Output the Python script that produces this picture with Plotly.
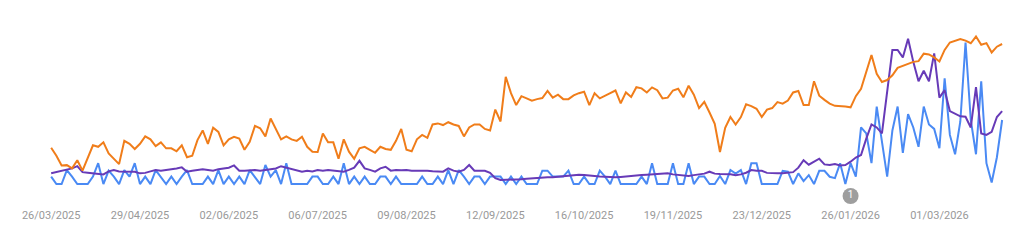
import pandas as pd
import plotly.graph_objects as go

dates = pd.date_range("2025-03-26", periods=183, freq="2D")

orange = [
    24.4, 19, 12.5, 12.7, 10.5, 16, 9, 17, 26, 25,
    28, 20.5, 17, 13.4, 29, 27, 23.5, 27, 32, 30,
    25.5, 28, 24, 24, 22, 26, 18, 19, 29.5, 36,
    27, 37.8, 35, 26, 30, 31.7, 30.6, 23, 28.4, 39,
    37.4, 32, 44, 37, 30, 32, 30, 29, 31.7, 25,
    21.7, 21.5, 34, 28, 28, 17, 30, 21.7, 17, 24,
    25, 23, 21, 25, 23.5, 23, 29, 37, 23, 22,
    30, 33, 31, 40, 40.7, 39.6, 41.5, 40, 39, 32,
    38, 40, 40, 37, 36, 50, 42, 72, 61, 53,
    59, 57.5, 56, 57, 57.7, 62.5, 58, 60, 57, 57,
    59.5, 61, 62, 53, 61, 57.5, 59.5, 61, 62.8, 54.2,
    61.5, 58.5, 65, 64.2, 61.5, 64.9, 63, 57.5, 58, 62.8,
    64, 58.2, 66, 60, 51, 55.2, 48, 40.5, 21.5, 37.7,
    45, 40, 45, 53.5, 52.3, 50.5, 45, 50, 51, 55,
    54, 56, 61.5, 62.5, 53, 53, 69, 59.3, 56.5, 54,
    52.5, 52.5, 52, 51.5, 59, 64, 76, 86.6, 74, 68.5,
    69.8, 73, 78, 79.3, 80.3, 82, 82.5, 87.5, 87, 85,
    82.3, 90, 95, 96, 97.4, 96.3, 94.5, 99, 93.5, 94.6,
    88.3, 92.2, 94,
]

purple = [
    7.2, 8, 9, 10, 10.5, 12, 8, 7.6, 7.2, 6.7,
    6.5, 8.5, 9.4, 8.5, 8.3, 8.5, 8.3, 7.2, 7.5, 8.5,
    9.4, 9, 9.4, 10, 10.5, 11.2, 8.3, 9, 9.4, 10,
    9.5, 9, 10, 10.5, 11, 12.5, 9, 8.9, 9.4, 9.4,
    9, 9.4, 10, 10.5, 12, 11, 10, 8.8, 8.3, 9,
    8.5, 9.4, 9, 9.4, 9, 8.5, 8.3, 9.5, 11, 15.6,
    10.5, 9.5, 8.3, 10.5, 11.6, 9, 9.4, 9.2, 9.4, 9,
    9, 9.2, 8.9, 8.6, 8.5, 8.3, 10.5, 9, 8.3, 9.5,
    12.8, 9, 9, 8.9, 7.5, 4, 2.7, 2.7, 3, 3,
    3.2, 3.5, 3.8, 4, 4.3, 4.5, 4.5, 4.9, 5.2, 5.5,
    6, 6.2, 6, 5.5, 5.2, 5, 4.9, 4.5, 4.5, 4.8,
    5.2, 5.5, 6, 6, 6.2, 6.5, 6.5, 7, 7.2, 6.5,
    6, 5.5, 5.4, 6, 6.7, 7, 8.3, 7, 6.7, 6.7,
    6.5, 6, 6.5, 7.6, 9.4, 9, 8.9, 7.5, 7.2, 7.2,
    7.2, 7.6, 8, 11, 16, 13, 15, 17, 13.2, 12.8,
    13.5, 12.5, 12.8, 15, 17.8, 19.5, 30.5, 40, 38, 34,
    62, 90, 90, 85, 97.5, 82, 69, 76, 69, 87.7,
    58, 63, 49, 47, 45.5, 45.2, 38, 65, 34, 33,
    35, 45, 49,
]

blue = [
    5, 0, 0, 9.4, 5, 0, 0, 0, 5, 14,
    0, 9, 5, 0, 9.4, 5, 14, 0, 5, 0,
    9.4, 5, 0, 5, 0, 5, 9.4, 0, 0, 0,
    5, 0, 9.4, 0, 5, 0, 5, 0, 9.4, 5,
    0, 12.8, 5, 9.4, 0, 14, 0, 0, 0, 0,
    5, 5, 0, 0, 5, 0, 14, 0, 5, 0,
    5, 0, 0, 5, 5, 0, 5, 0, 0, 0,
    0, 5, 0, 0, 5, 0, 9.4, 0, 9.4, 5,
    0, 5, 5, 0, 5, 5, 5, 0, 5, 0,
    5, 0, 0, 0, 9, 9, 5, 5, 5, 9,
    0, 0, 5, 0, 0, 9, 5, 0, 9, 0,
    0, 0, 0, 5, 0, 14, 0, 0, 0, 14,
    0, 0, 14, 0, 5, 5, 0, 0, 5.4, 0,
    9.4, 7, 9.4, 0, 13.9, 13.9, 0, 0, 0, 0,
    8.9, 8.3, 0, 7.2, 2, 6, 0, 8.9, 8.9, 4.9,
    4, 13.9, 0, 14, 5, 38, 34, 14, 52, 30,
    5, 36, 52, 21, 47, 38, 25, 52, 40, 37,
    24, 71, 33, 20, 42, 95, 43, 20, 69, 14,
    1, 18, 43,
]

marker_dates = ["2026-01-26"]
marker_labels = ["1"]

fig = go.Figure()
fig.add_trace(go.Scatter(x=dates, y=blue, mode="lines",
                         line=dict(color="#4a8af4", width=2), hoverinfo="skip"))
fig.add_trace(go.Scatter(x=dates, y=purple, mode="lines",
                         line=dict(color="#673ab7", width=2), hoverinfo="skip"))
fig.add_trace(go.Scatter(x=dates, y=orange, mode="lines",
                         line=dict(color="#f07d1a", width=2), hoverinfo="skip"))
fig.add_trace(go.Scatter(x=marker_dates, y=[-8], mode="markers+text",
                         text=marker_labels, textposition="middle center",
                         textfont=dict(color="white", size=10, family="Roboto"),
                         marker=dict(size=16, color="#9e9e9e"),
                         cliponaxis=False, hoverinfo="skip"))

fig.update_layout(
    width=1024, height=241,
    margin=dict(l=0, r=0, t=30, b=34),
    paper_bgcolor="white", plot_bgcolor="white",
    showlegend=False,
    font=dict(family="Roboto", color="#999999", size=11),
    xaxis=dict(
        range=["2025-03-06 10:00", "2026-04-02 09:00"],
        tick0="2025-03-26", dtick=34 * 86400000,
        tickformat="%d/%m/%Y",
        showgrid=False, zeroline=False, showline=False, ticks="",
        tickfont=dict(family="Roboto", size=11, color="#999999"),
    ),
    yaxis=dict(range=[-15.4, 103.4], visible=False, showgrid=False, zeroline=False),
)

fig.write_html("out.html")
